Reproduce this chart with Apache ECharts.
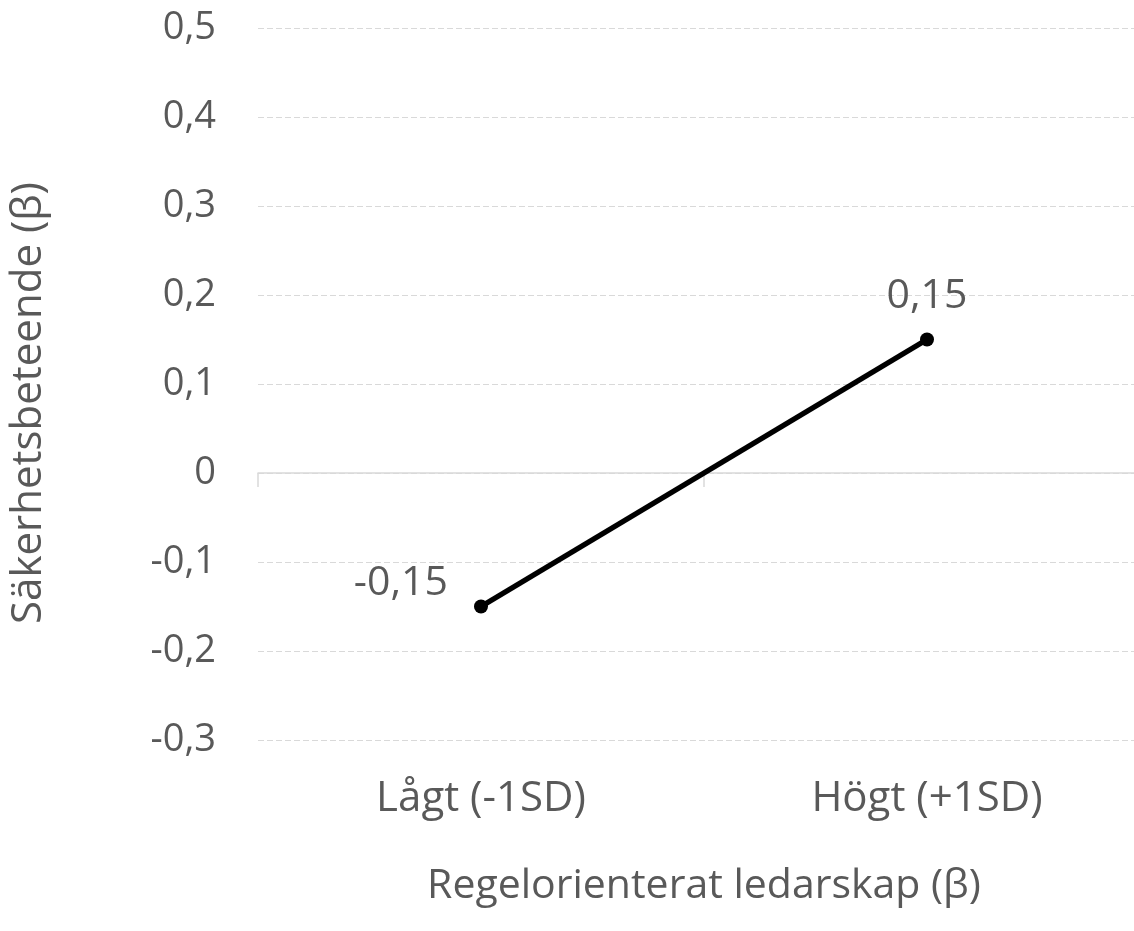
<!DOCTYPE html>
<html>
<head>
<meta charset="utf-8">
<script src="https://cdn.jsdelivr.net/npm/echarts@6/dist/echarts.min.js"></script>
<style>html,body{margin:0;padding:0;background:#fff;overflow:hidden}#c{width:1134px;height:931px}</style>
</head>
<body>
<div id="c"></div>
<script>
const categories = ['Lågt (-1SD)', 'Högt (+1SD)'];
const values = [-0.15, 0.15];
const yMin = -0.3, yMax = 0.5, yStep = 0.1;
const yTitle = 'Säkerhetsbeteende (β)';
const xTitle = 'Regelorienterat ledarskap (β)';

const fmt = v => {
  const r = Math.round(v * 100) / 100;
  if (r === 0) return '0';
  return String(r).replace('.', ',');
};
const FONT = 'Open Sans';
const GREY = '#595959';

const chart = echarts.init(document.getElementById('c'));
chart.setOption({
  animation: false,
  grid: { left: 258, width: 892, top: 28, bottom: 191, outerBoundsMode: 'none', containLabel: false },
  xAxis: [
    {
      type: 'category', data: categories, boundaryGap: true,
      axisLine: { onZero: true, lineStyle: { color: '#d9d9d9', width: 1.5 } },
      axisTick: { show: true, length: 14, lineStyle: { color: '#d9d9d9', width: 1.5 } },
      axisLabel: { show: false }
    },
    {
      type: 'category', data: categories, boundaryGap: true, position: 'bottom',
      axisLine: { show: false, onZero: false }, axisTick: { show: false },
      axisLabel: { color: GREY, fontSize: 42, fontFamily: FONT, margin: 38 },
      name: xTitle, nameLocation: 'middle', nameGap: 126,
      nameTextStyle: { color: GREY, fontSize: 41, fontFamily: FONT }
    }
  ],
  yAxis: {
    type: 'value', min: yMin, max: yMax, interval: yStep,
    axisLine: { show: false }, axisTick: { show: false },
    splitLine: { lineStyle: { color: '#d9d9d9', type: [6, 3], width: 1.2 } },
    axisLabel: { color: GREY, fontSize: 38, fontFamily: FONT, margin: 42, formatter: fmt },
    name: yTitle, nameLocation: 'middle', nameGap: 208,
    nameTextStyle: { color: GREY, fontSize: 42, fontFamily: FONT, padding: [0, 38, 0, 0] }
  },
  series: [{
    type: 'line', xAxisIndex: 0,
    data: values.map((v, i) => ({
      value: v,
      label: i === 0
        ? { show: true, position: 'left', distance: 26, offset: [0, -23] }
        : { show: true, position: 'top', distance: 16 }
    })),
    lineStyle: { color: '#000', width: 5.5 },
    itemStyle: { color: '#000' },
    symbol: 'circle', symbolSize: 14,
    label: { color: GREY, fontSize: 41, fontFamily: FONT, formatter: p => fmt(p.value) }
  }]
});
</script>
</body>
</html>
